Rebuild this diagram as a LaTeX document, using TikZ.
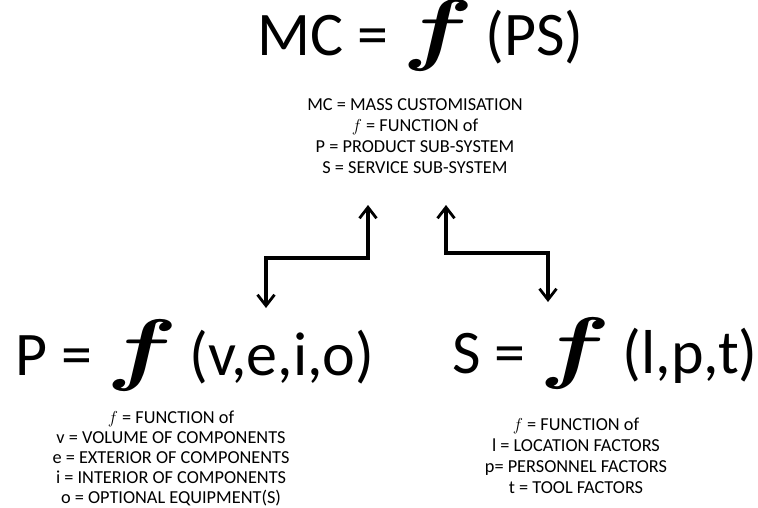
\documentclass[tikz,border=0pt]{standalone}
\usepackage{amsmath, amssymb}
\usepackage{graphicx}
\usepackage{fontspec}
\setmainfont{Carlito}
\usepackage{tikz}
\usetikzlibrary{arrows.meta}
\tikzset{
    big formula/.style={inner sep=0pt, anchor=base west, font=\fontsize{62}{70}\selectfont},
    legend/.style={inner sep=0pt, anchor=north, align=center, font=\fontsize{18.3}{21}\selectfont},
    link/.style={line width=3.6pt, {Straight Barb[length=11pt,width=17pt,line width=2.8pt]}-{Straight Barb[length=11pt,width=17pt,line width=2.8pt]}}
}
\newcommand{\bigf}{\hspace{14pt}\scalebox{10.5}[8]{\normalsize$\boldsymbol{f}$}\hspace{12pt}}

\begin{document}
\begin{tikzpicture}[x=1pt, y=-1pt]
\useasboundingbox (0,0) rectangle (758,507);

%main relation
\node[big formula] (mc) at (257,55) {MC =\bigf(PS)};
\node[legend] (mclegend) at (415,98) {MC = MASS CUSTOMISATION\\ $f$ = FUNCTION of\\ P = PRODUCT SUB-SYSTEM\\ S = SERVICE SUB-SYSTEM};

%product sub-system
\node[big formula] (pf) at (15,375) {P =\bigf(v,e,i,o)};
\node[legend, font=\fontsize{18.3}{20}\selectfont] (plegend) at (171,411) {$f$ = FUNCTION of\\ v = VOLUME OF COMPONENTS\\ e = EXTERIOR OF COMPONENTS\\ i = INTERIOR OF COMPONENTS\\ o = OPTIONAL EQUIPMENT(S)};

%service sub-system
\node[big formula] (sf) at (452,373) {S =\bigf(l,p,t)};
\node[legend] (slegend) at (576,418) {$f$ = FUNCTION of\\ l = LOCATION FACTORS\\ p= PERSONNEL FACTORS\\ t = TOOL FACTORS};

%links between the sub-systems and MC
\coordinate (pend) at (266,308);
\coordinate (pbend) at (368,258);
\coordinate (mcleft) at (368,205);
\coordinate (send) at (548,302);
\coordinate (sbend) at (446,253);
\coordinate (mcright) at (446,205);
\draw[link] (pend) |- (pbend) -- (mcleft);
\draw[link] (send) |- (sbend) -- (mcright);
\end{tikzpicture}
\end{document}
